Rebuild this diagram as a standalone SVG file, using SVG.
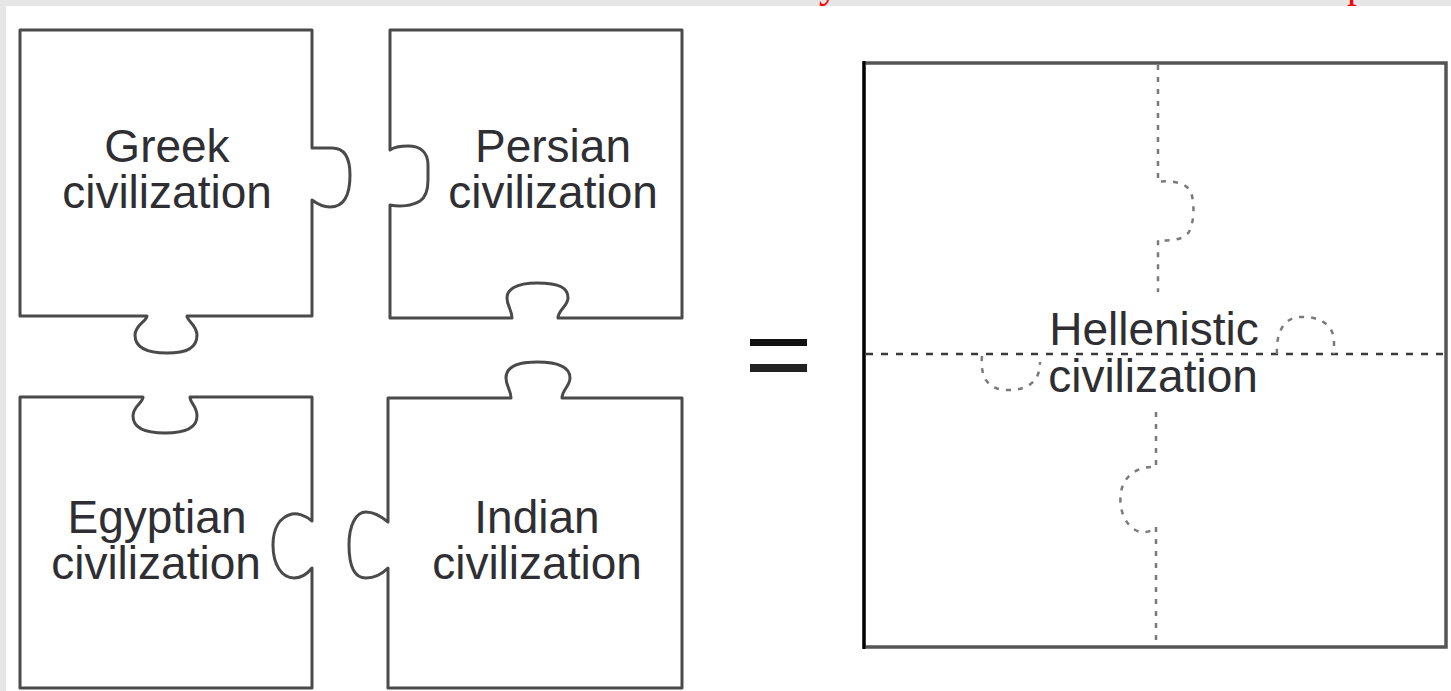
<svg xmlns="http://www.w3.org/2000/svg" width="1451" height="691" viewBox="0 0 1451 691">
  <style>
    .piece { fill: #ffffff; stroke: #4a4a4a; stroke-width: 3; stroke-linejoin: round; }
    .label { font-family: "Liberation Sans", Arial, sans-serif; font-size: 46px; fill: #2e2e33; text-anchor: middle; }
    .seam { fill: none; stroke: #3a3a3a; stroke-width: 2.5; stroke-dasharray: 7 8; }
    .seam-soft { fill: none; stroke: #7a7a7a; stroke-width: 2.5; stroke-dasharray: 5 7; }
    .cut { font-family: "Liberation Serif", "Times New Roman", serif; font-size: 40px; fill: #ff0000; }
  </style>

  <!-- page frame -->
  <rect x="0" y="0" width="1451" height="691" fill="#ffffff"/>
  <rect x="0" y="0" width="1451" height="6" fill="#e6e6e6"/>
  <rect x="0" y="0" width="6" height="691" fill="#e6e6e6"/>
  <text class="cut" x="819" y="-3">y</text>
  <text class="cut" x="1347" y="-3">p</text>

  <!-- Greek piece -->
  <g id="greek">
    <path class="piece" d="M20,30 H312 V148 H332 C345,148 350,158 350,175 C350,195 344,207 330,207 C322,207 316,203 312,200 V316 H187 C187,321 197,325 197,335 C197,348 187,353 167,353 C147,353 135,348 135,335 C135,325 147,321 147,316 H20 Z"/>
    <text class="label" x="167" y="162">Greek</text>
    <text class="label" x="167" y="208">civilization</text>
  </g>

  <!-- Persian piece -->
  <g id="persian">
    <path class="piece" d="M390,30 H682 V318 H558 C558,310 568,306 568,298 C568,288 560,283 537,283 C515,283 507,290 507,298 C507,306 512,310 512,318 H390 V205 C400,207 412,206 420,201 C426,197 428,190 428,180 V165 C428,152 420,146 408,146 C400,146 394,147 390,150 Z"/>
    <text class="label" x="553" y="162">Persian</text>
    <text class="label" x="553" y="208">civilization</text>
  </g>

  <!-- Egyptian piece -->
  <g id="egyptian">
    <path class="piece" d="M20,397 H143 C143,403 133,406 133,416 C133,428 145,433 165,433 C185,433 197,428 197,416 C197,406 190,403 190,397 H312 V521 C305,515 297,513 292,514 C280,517 273,528 273,545 C273,565 282,578 294,578 C302,578 308,573 312,568 V688 H20 Z"/>
    <text class="label" x="157" y="533">Egyptian</text>
    <text class="label" x="156" y="579">civilization</text>
  </g>

  <!-- Indian piece -->
  <g id="indian">
    <path class="piece" d="M388,398 H511 C511,390 506,386 506,378 C506,368 515,362 537,362 C560,362 570,368 570,378 C570,386 562,390 562,398 H682 V688 H388 V568 C382,574 375,578 366,578 C354,578 349,565 349,545 C349,525 356,512 366,512 C375,512 382,517 388,522 Z"/>
    <text class="label" x="537" y="533">Indian</text>
    <text class="label" x="537" y="579">civilization</text>
  </g>

  <!-- equals sign -->
  <g id="equals">
    <rect x="750" y="339" width="57" height="7" fill="#111111"/>
    <rect x="750" y="364" width="57" height="8" fill="#222222"/>
  </g>

  <!-- assembled Hellenistic square -->
  <g id="hellenistic">
    <rect x="864" y="63" width="582" height="584" fill="#ffffff" stroke="#555555" stroke-width="3.5"/>
    <line x1="864" y1="61" x2="864" y2="649" stroke="#000000" stroke-width="3"/>
    <!-- inner seams where the four pieces meet -->
    <path class="seam-soft" d="M1158,65 V182 C1170,180 1186,182 1191,192 C1195,205 1194,222 1189,232 C1182,241 1168,241 1158,240 V292"/>
    <path class="seam" d="M866,354 H1447"/>
    <path class="seam-soft" d="M1277,354 C1276,335 1282,318 1300,317 C1320,316 1333,325 1334,340 V354"/>
    <path class="seam-soft" d="M982,356 C980,378 988,390 1008,390 C1030,390 1040,380 1040,362"/>
    <path class="seam-soft" d="M1156,412 V467 C1138,466 1124,475 1121,492 C1118,510 1126,528 1140,532 C1148,533 1153,530 1156,527 V647"/>
    <text class="label" x="1154" y="345">Hellenistic</text>
    <text class="label" x="1153" y="392">civilization</text>
  </g>
</svg>
